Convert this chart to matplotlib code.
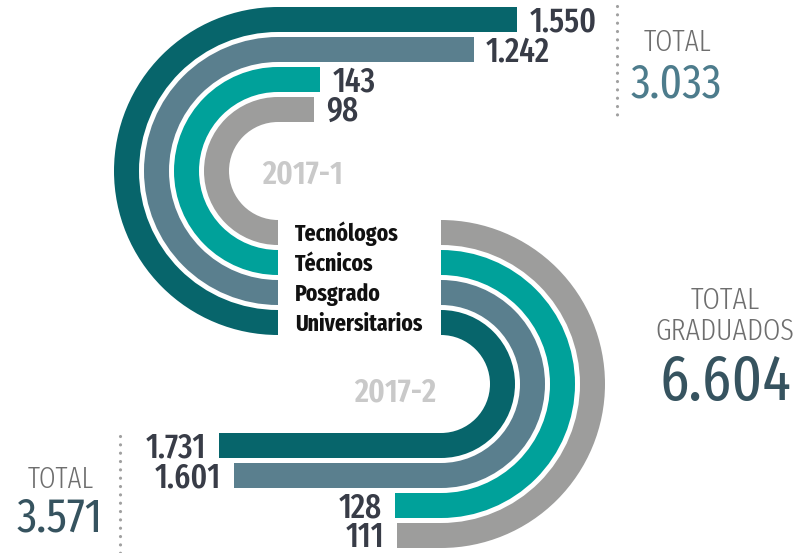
import matplotlib.pyplot as plt
from matplotlib.patches import Wedge, Rectangle

# Graduados por periodo y nivel de formación
categorias = ['Tecnólogos', 'Técnicos', 'Posgrado', 'Universitarios']
colores = ['#9d9d9c', '#00a19a', '#5a7f8e', '#07656b']
periodo_1 = [98, 143, 1242, 1550]
periodo_2 = [111, 128, 1601, 1731]
periodos = ['2017-1', '2017-2']

total_1 = sum(periodo_1)
total_2 = sum(periodo_2)
total = total_1 + total_2


def fmt(v):
    return f'{v:,}'.replace(',', '.')


# tipografía condensada; se usa la primera que esté instalada
FONT = ['Fira Sans Extra Condensed', 'Fira Sans Condensed',
        'Roboto Condensed', 'DejaVu Sans']
plt.rcParams['font.family'] = FONT

fig = plt.figure(figsize=(8.06, 5.53), dpi=100)
ax = fig.add_axes([0, 0, 1, 1])
ax.set_xlim(0, 806)
ax.set_ylim(553, 0)
ax.axis('off')

# geometría de las bandas (en píxeles)
r0, ancho, sep = 49, 25, 5
paso = ancho + sep
r_ext = r0 + 3 * paso + ancho
cx1, cy1 = 278, 171
cx2, cy2 = 441, cy1 + r0 + r_ext

# escala de la parte recta: base + px por graduado
base_1, k_1 = 22.4, 0.1399
base_2, k_2 = 31.7, 0.1098


def base_off(fs):
    # desplazamiento de la línea base para centrar mayúsculas/cifras
    return 0.345 * fs / 0.72


val_color = '#383c47'
val_fs = 24.5

# periodo 1: semicírculo a la izquierda, barras hacia la derecha
for i, (v, c) in enumerate(zip(periodo_1, colores)):
    ri = r0 + i * paso
    ax.add_patch(Wedge((cx1, cy1), ri + ancho, 90, 270, width=ancho,
                       facecolor=c, edgecolor='none'))
    largo = base_1 + k_1 * v
    y_top = cy1 - ri - ancho
    ax.add_patch(Rectangle((cx1 - 0.5, y_top), largo + 0.5, ancho,
                           facecolor=c, edgecolor='none'))
    ax.text(cx1 + largo + 12, y_top + ancho / 2 + base_off(val_fs), fmt(v),
            fontsize=val_fs, fontweight=500, color=val_color,
            ha='left', va='baseline')

# periodo 2: semicírculo a la derecha, barras hacia la izquierda
orden_2 = [3, 2, 1, 0]
for j, i in enumerate(orden_2):
    v, c = periodo_2[i], colores[i]
    ri = r0 + j * paso
    ax.add_patch(Wedge((cx2, cy2), ri + ancho, -90, 90, width=ancho,
                       facecolor=c, edgecolor='none'))
    largo = base_2 + k_2 * v
    y_bot = cy2 + ri
    ax.add_patch(Rectangle((cx2 - largo, y_bot), largo + 0.5, ancho,
                           facecolor=c, edgecolor='none'))
    ax.text(cx2 - largo - 13, y_bot + ancho / 2 + base_off(val_fs), fmt(v),
            fontsize=val_fs, fontweight=500, color=val_color,
            ha='right', va='baseline')

# nombres de las categorías entre los dos semicírculos
cat_fs = 17
for i, nombre in enumerate(categorias):
    yc = cy1 + r0 + i * paso + ancho / 2
    ax.text(295, yc + base_off(cat_fs), nombre, fontsize=cat_fs,
            fontweight='bold', color='#111111', ha='left', va='baseline')

ax.text(303, 183, periodos[0], fontsize=24, fontweight=600,
        color='#c9c9c9', ha='center', va='baseline')
ax.text(395, 401, periodos[1], fontsize=24, fontweight=600,
        color='#c9c9c9', ha='center', va='baseline')

# totales
gris = '#6e6e6e'
ax.text(677, 51, 'TOTAL', fontsize=21.5, fontweight=300, color=gris,
        ha='center', va='baseline')
ax.text(676, 97, fmt(total_1), fontsize=34, color='#4d7c8c',
        ha='center', va='baseline')

ax.text(725, 309, 'TOTAL', fontsize=22, fontweight=300, color=gris,
        ha='center', va='baseline')
ax.text(725, 340, 'GRADUADOS', fontsize=22, fontweight=300, color=gris,
        ha='center', va='baseline')
ax.text(725, 400, fmt(total), fontsize=46, color='#36535f',
        ha='center', va='baseline')

ax.text(61, 488, 'TOTAL', fontsize=21, fontweight=300, color=gris,
        ha='center', va='baseline')
ax.text(60, 532, fmt(total_2), fontsize=35, color='#36535f',
        ha='center', va='baseline')

# líneas punteadas junto a los totales de cada periodo
punteado = dict(color='#a0a0a0', linewidth=2.3, solid_capstyle='round',
                dash_capstyle='round', linestyle=(0, (0.01, 2.6)))
ax.plot([617, 617], [6, 122], **punteado)
ax.plot([120, 120], [436, 553], **punteado)

fig.savefig('out.png', dpi=100)
